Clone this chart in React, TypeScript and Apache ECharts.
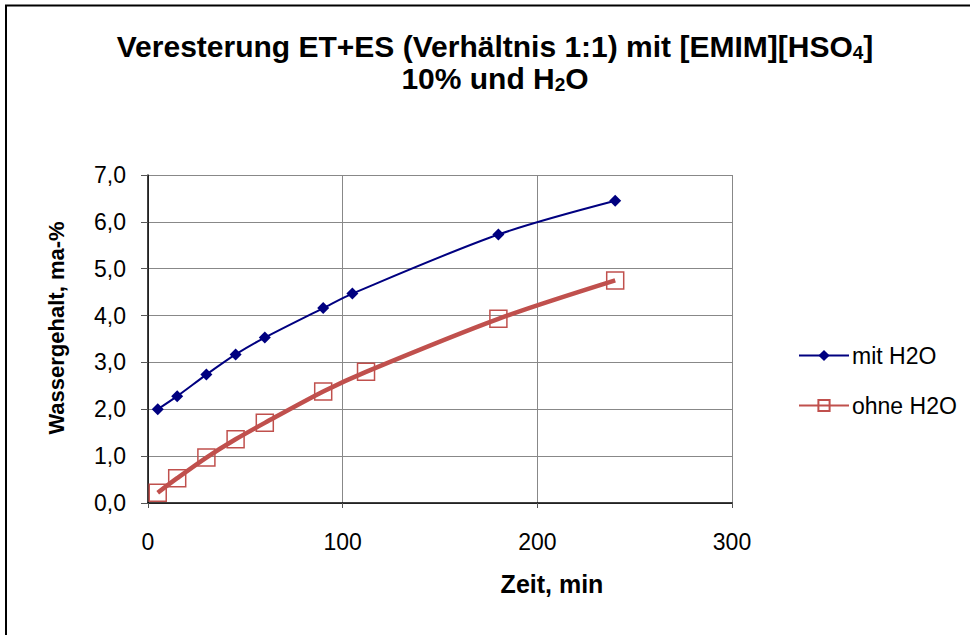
import React, { useEffect, useRef } from "react";
import * as echarts from "echarts";

const timeMit = [5, 15, 30, 45, 60, 90, 105, 180, 240];
const valuesMit = [2.0, 2.28, 2.74, 3.17, 3.53, 4.16, 4.47, 5.73, 6.45];
const timeOhne = [5, 15, 30, 45, 60, 90, 112, 180, 240];
const valuesOhne = [0.22, 0.53, 0.97, 1.36, 1.71, 2.38, 2.8, 3.93, 4.75];
const seriesNames = ["mit H2O", "ohne H2O"];
const xTicks = { min: 0, max: 300, interval: 100 };
const yTicks = { min: 0, max: 7, interval: 1 };

const FONT = "Liberation Sans, Arial, sans-serif";

export default function App() {
  const ref = useRef<HTMLDivElement>(null);
  useEffect(() => {
    document.body.style.margin = "0";
    const chart = echarts.init(ref.current!, null, { renderer: "svg" });
    const mit = timeMit.map((t, i) => [t, valuesMit[i]]);
    const ohne = timeOhne.map((t, i) => [t, valuesOhne[i]]);
    chart.setOption({
      animation: false,
      backgroundColor: "#ffffff",
      textStyle: { fontFamily: FONT },
      grid: { left: 148, top: 175, width: 584, height: 328, containLabel: false },
      graphic: [
        {
          type: "polyline",
          shape: { points: [[6, 1000], [6, 5.5], [1000, 5.5]] },
          style: { stroke: "#000", lineWidth: 2, fill: "none" },
          silent: true,
        },
        {
          type: "text",
          x: 495,
          y: 30,
          style: {
            text: "Veresterung ET+ES (Verhältnis 1:1) mit [EMIM][HSO{sub|4}]\n10% und H{sub|2}O",
            align: "center",
            fontFamily: FONT,
            fontWeight: "bold",
            fontSize: 30,
            lineHeight: 32,
            fill: "#000",
            rich: {
              sub: {
                fontFamily: FONT,
                fontWeight: "bold",
                fontSize: 19,
                lineHeight: 15,
                verticalAlign: "bottom",
                fill: "#000",
              },
            },
          },
        },
        {
          type: "text",
          x: 552,
          y: 584,
          style: {
            text: "Zeit, min",
            align: "center",
            verticalAlign: "middle",
            fontFamily: FONT,
            fontWeight: "bold",
            fontSize: 25,
            fill: "#000",
          },
        },
        {
          type: "text",
          x: 56,
          y: 328,
          rotation: Math.PI / 2,
          style: {
            text: "Wassergehalt, ma-%",
            align: "center",
            verticalAlign: "middle",
            fontFamily: FONT,
            fontWeight: "bold",
            fontSize: 22,
            fill: "#000",
          },
        },
      ],
      legend: {
        orient: "vertical",
        left: 793,
        top: 339,
        itemWidth: 50,
        itemHeight: 14,
        itemGap: 27,
        textStyle: { fontFamily: FONT, fontSize: 23, color: "#000", padding: [0, 0, 0, -2] },
        data: seriesNames,
      },
      xAxis: {
        type: "value",
        min: xTicks.min,
        max: xTicks.max,
        interval: xTicks.interval,
        axisLine: { show: true, onZero: false, lineStyle: { color: "#000", width: 1.5 } },
        axisTick: { show: true, length: 5, lineStyle: { color: "#555" } },
        axisLabel: { fontFamily: FONT, fontSize: 23, color: "#000", margin: 27 },
        splitLine: { show: true, lineStyle: { color: "#888", width: 1 } },
      },
      yAxis: {
        type: "value",
        min: yTicks.min,
        max: yTicks.max,
        interval: yTicks.interval,
        axisLine: { show: true, onZero: false, lineStyle: { color: "#000", width: 1.5 } },
        axisTick: { show: true, length: 7, lineStyle: { color: "#555" } },
        axisLabel: {
          fontFamily: FONT,
          fontSize: 23,
          color: "#000",
          margin: 22,
          formatter: (v: number) => v.toFixed(1).replace(".", ","),
        },
        splitLine: { show: true, lineStyle: { color: "#888", width: 1 } },
      },
      series: [
        {
          name: seriesNames[0],
          type: "line",
          data: mit,
          smooth: 0.3,
          symbol: "diamond",
          symbolSize: 12,
          lineStyle: { color: "#000080", width: 2 },
          itemStyle: { color: "#000080" },
          z: 3,
        },
        {
          name: seriesNames[1],
          type: "line",
          data: ohne,
          smooth: 0.3,
          symbol: "rect",
          symbolSize: 17,
          lineStyle: { color: "#C0504D", width: 4.5 },
          itemStyle: { color: "rgba(255,255,255,0)", borderColor: "#C0504D", borderWidth: 1.5 },
          z: 2,
        },
      ],
    });
    return () => chart.dispose();
  }, []);
  return (
    <div
      ref={ref}
      style={{ position: "absolute", left: 0, top: 0, width: 970, height: 635 }}
    />
  );
}
